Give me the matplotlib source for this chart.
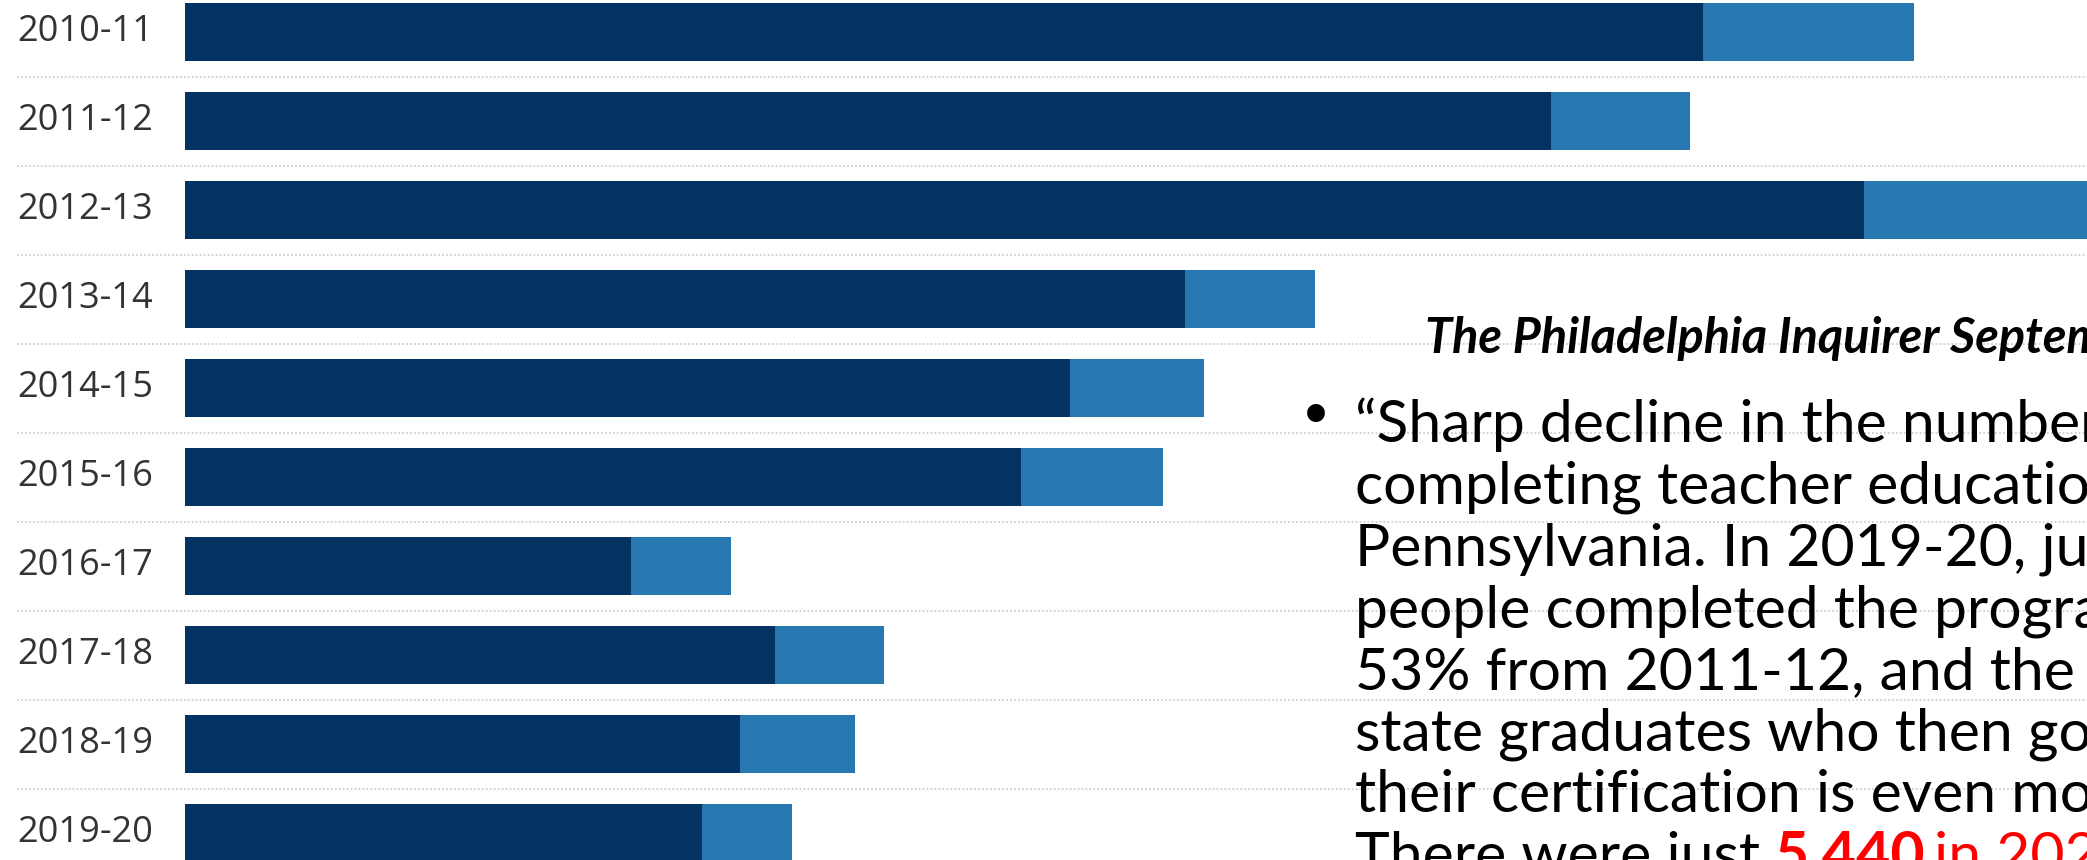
import matplotlib.pyplot as plt

# data (bar lengths, arbitrary units)
years = ['2010-11', '2011-12', '2012-13', '2013-14', '2014-15',
         '2015-16', '2016-17', '2017-18', '2018-19', '2019-20']
dark = [15180, 13660, 16790, 10000, 8850, 8360, 4460, 5900, 5550, 5170]
light = [2110, 1390, 2500, 1300, 1340, 1420, 1000, 1090, 1150, 900]

lines = ['\u201cSharp decline in the number of',
         'completing teacher education',
         'Pennsylvania. In 2019-20, just',
         'people completed the programs',
         '53% from 2011-12, and the number',
         'state graduates who then got',
         'their certification is even more']

c_dark = '#043262'
c_light = '#2777b0'

body_font = ['Lato', 'DejaVu Sans']
label_font = ['Open Sans', 'Noto Sans', 'DejaVu Sans']

W, H = 2087, 860
fig = plt.figure(figsize=(W / 100, H / 100), dpi=100)
ax = fig.add_axes([0, 0, 1, 1])

# bars: row i centred at 32 + 89*i px from top, bars start at x=185 px
ax.set_xlim(-1850, (W - 185) * 10)
ax.set_ylim((H - 32) / 89, -32 / 89)
ax.axis('off')

ypos = list(range(len(years)))
ax.barh(ypos, dark, height=0.65, color=c_dark, zorder=2)
ax.barh(ypos, light, left=dark, height=0.65, color=c_light, zorder=2)

# dotted separators
for i in ypos:
    ax.axhline(i + 0.5, xmin=17 / W, xmax=1, color='#cfcfcf', lw=1.3,
               linestyle=(0, (1, 1.2)), zorder=1)

# year labels
trans = ax.get_yaxis_transform()
for i, yr in enumerate(years):
    ax.text(17 / W, i, yr, transform=trans, ha='left', va='center',
            fontsize=26, color='#333333', family=label_font)

# quote block
fig.text(1425 / W, 1 - 353 / H, 'The Philadelphia Inquirer September 2022',
         fontsize=35, weight='bold', style='italic', color='black',
         family=body_font, ha='left', va='baseline')

fig.text(1316 / W, 1 - 420 / H, '\u2022', fontsize=44, color='black',
         family=['DejaVu Sans'], ha='center', va='center')

fs = 42.4
for k, s in enumerate(lines):
    yb = 442 + 61.7 * k
    fig.text(1355 / W, 1 - yb / H, s, fontsize=fs, color='black',
             family=body_font, ha='left', va='baseline')

yb = 442 + 61.7 * 7
fig.text(1355 / W, 1 - yb / H, 'There were just', fontsize=fs, color='black',
         family=body_font, ha='left', va='baseline')
fig.text(1774 / W, 1 - yb / H, '5,440', fontsize=fs, color='red',
         weight='bold', family=body_font, ha='left', va='baseline')
fig.text(1934 / W, 1 - yb / H, 'in 2020', fontsize=fs, color='red',
         family=body_font, ha='left', va='baseline')

fig.savefig('out.png', dpi=100)
